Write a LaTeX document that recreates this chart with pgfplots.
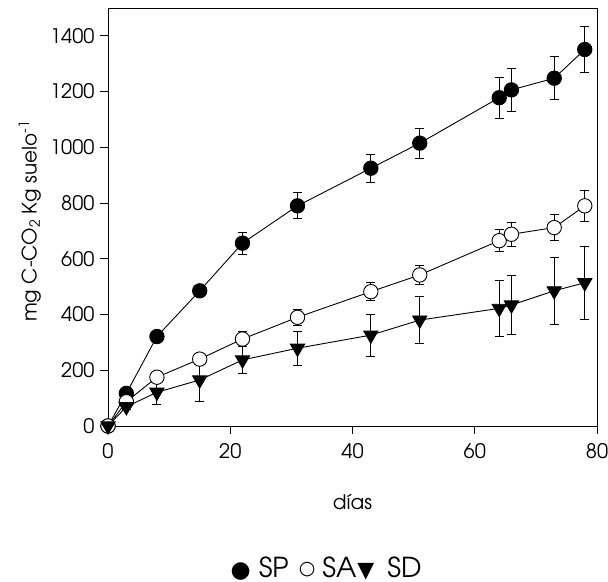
\documentclass[border=0pt]{standalone}
\usepackage{pgfplots}
\pgfplotsset{compat=1.18}
\usepackage{pgfplotstable}
\usepackage{fontspec}
\setmainfont{TeX Gyre Adventor}
\newfontfamily\symfont{DejaVu Sans}

\pgfplotstableread{
x y e
0 0 0
3 117 10
8 321 15
15 485 20
22 656 40
31 790 47
43 925 51
51 1015 54
64 1178 74
66 1206 77
73 1248 78
78 1351 84
}\SP

\pgfplotstableread{
x y e
0 0 0
3 87 10
8 175 15
15 240 20
22 312 27
31 390 28
43 482 33
51 542 34
64 665 40
66 688 44
73 712 47
78 790 57
}\SA

\pgfplotstableread{
x y e
0 0 0
3 69 10
8 121 45
15 165 78
22 237 49
31 279 60
43 326 75
51 380 85
64 422 99
66 434 105
73 485 120
78 514 130
}\SD

\begin{document}
\begin{tikzpicture}
\begin{axis}[
  scale only axis, width=489pt, height=418pt,
  xmin=0, xmax=80, ymin=0, ymax=1500,
  xtick={0,20,40,60,80}, ytick={0,200,...,1400},
  tick align=outside, xtick pos=bottom, ytick pos=left,
  major tick length=8pt,
  axis line style={line width=0.9pt},
  tick style={line width=0.9pt, black},
  clip=false,
  /pgf/number format/assume math mode=true,
  /pgf/number format/1000 sep={},
  tick label style={font=\fontsize{20}{24}\selectfont},
  xticklabel style={yshift=-6pt},
  yticklabel style={xshift=-2pt},
  xlabel style={font=\fontsize{20}{24}\selectfont, at={(axis description cs:0.5,-0.182)}, anchor=center},
  ylabel style={font=\fontsize{20}{24}\selectfont, at={(axis description cs:-0.16,0.49)}, anchor=center},
  xlabel={días},
  ylabel={mg C-CO\textsubscript{2} Kg suelo\textsuperscript{-1}},
  every axis plot/.append style={line width=0.9pt, black},
]
\addplot[mark=*, mark size=7.2pt, mark options={fill=black, solid},
  error bars/.cd, y dir=both, y explicit,
  error bar style={line width=0.9pt},
  error mark options={line width=0.9pt, mark size=4.5pt, rotate=90}]
  table[x=x, y=y, y error=e] {\SP};
\addplot[mark=*, mark size=7.2pt, mark options={fill=white, solid},
  error bars/.cd, y dir=both, y explicit,
  error bar style={line width=0.9pt},
  error mark options={line width=0.9pt, mark size=4.5pt, rotate=90}]
  table[x=x, y=y, y error=e] {\SA};
\addplot[mark=triangle*, mark size=8.2pt, mark options={fill=black, solid, rotate=180},
  error bars/.cd, y dir=both, y explicit,
  error bar style={line width=0.9pt},
  error mark options={line width=0.9pt, mark size=4.5pt, rotate=90}]
  table[x=x, y=y, y error=e] {\SD};
\node[font=\fontsize{27.5}{30}\selectfont, anchor=center, inner sep=0pt]
  at (axis description cs:0.446,-0.340)
  {{\symfont\fontsize{23}{26}\selectfont ●}\hspace{8pt}SP\hspace{10pt}\raisebox{3pt}{\symfont\fontsize{19}{20}\selectfont ○}\hspace{7pt}SA\hspace{1pt}{\symfont\fontsize{22}{22}\selectfont ▼}\hspace{13pt}SD};
\coordinate (bbA) at (axis description cs:-0.2209,-0.3732);
\coordinate (bbB) at (axis description cs:1.0225,1.0191);
\end{axis}
\pgfresetboundingbox
\path (bbA) rectangle (bbB);
\end{tikzpicture}
\end{document}
